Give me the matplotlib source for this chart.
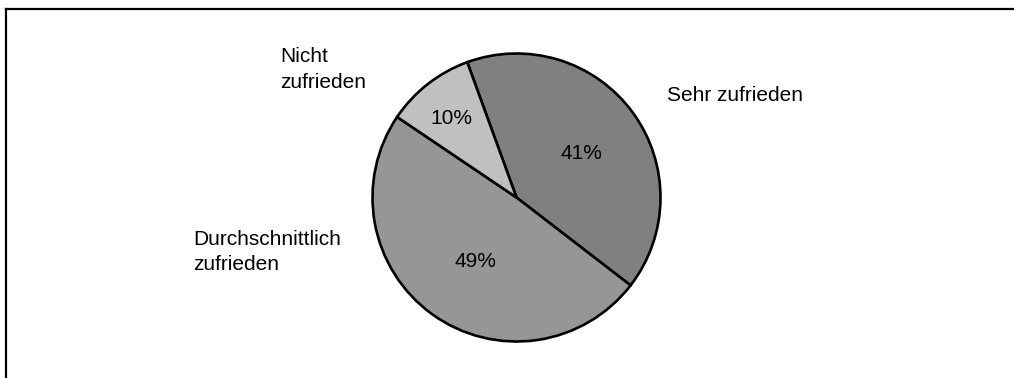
import matplotlib
matplotlib.use("Agg")
import matplotlib.pyplot as plt
from matplotlib.lines import Line2D

categories = ["Sehr zufrieden", "Durchschnittlich\nzufrieden", "Nicht\nzufrieden"]
values = [41, 49, 10]
colors = ["#808080", "#969696", "#c0c0c0"]

plt.rcParams['font.family'] = ['Liberation Sans', 'DejaVu Sans']

W, H = 1014, 378
fig = plt.figure(figsize=(W / 100, H / 100), dpi=100)

cx, cy, r = 516.5, 197.5, 144
ax = fig.add_axes([(cx - r) / W, (H - cy - r) / H, 2 * r / W, 2 * r / H])
ax.pie(values, colors=colors, startangle=110, counterclock=False,
       wedgeprops=dict(edgecolor="black", linewidth=1.9))
ax.set_xlim(-1, 1)
ax.set_ylim(-1, 1)
ax.set_aspect("equal")
ax.axis("off")

def d(px, py):
    return ((px - cx) / r, (cy - py) / r)

fs = 15
# category labels (left x, last-line baseline in pixels)
label_pos = [(667, 101), (193, 270), (280, 87.5)]
for lab, (px, py) in zip(categories, label_pos):
    x, y = d(px, py)
    ax.text(x, y, lab, ha="left", va="baseline", fontsize=fs,
            linespacing=1.43, clip_on=False)

# percentage labels (center x, baseline in pixels)
pct_pos = [(581, 159), (475, 266.7), (451, 124.3)]
for v, (px, py) in zip(values, pct_pos):
    x, y = d(px, py)
    ax.text(x, y, f"{v}%", ha="center", va="baseline", fontsize=fs)

# frame lines (left and top)
fig.add_artist(Line2D([6 / W, 6 / W], [0, 1 - 9 / H], color="black", linewidth=1.6,
                      transform=fig.transFigure))
fig.add_artist(Line2D([6 / W, 1], [1 - 9 / H, 1 - 9 / H], color="black", linewidth=1.6,
                      transform=fig.transFigure))

fig.savefig("out.png", dpi=100)
